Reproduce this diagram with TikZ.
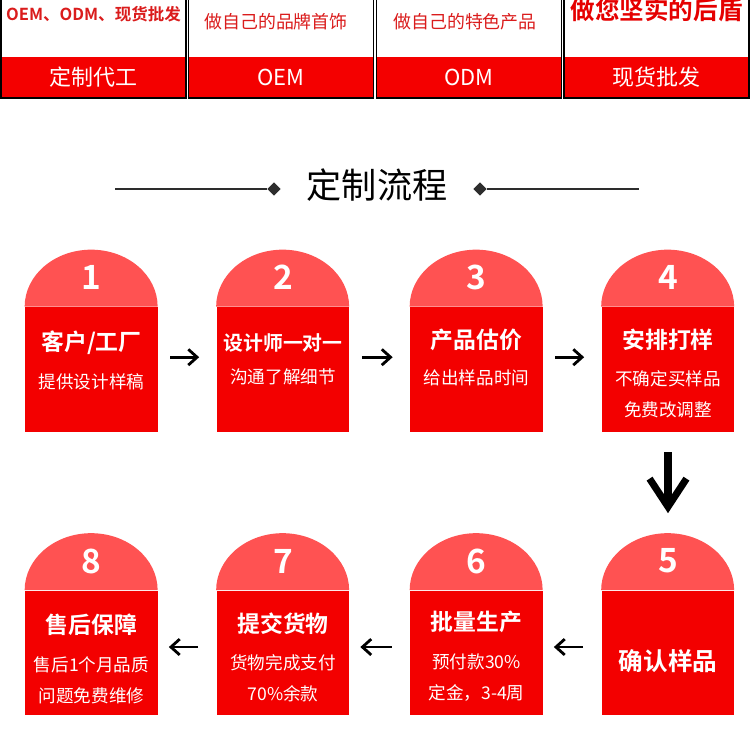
\documentclass[tikz,border=0pt]{standalone}
\usepackage{fontspec}
\setmainfont{Noto Sans CJK SC}[BoldFont={Noto Sans CJK SC Bold}]
\usetikzlibrary{arrows.meta,positioning,calc,shapes.geometric}
\definecolor{bandred}{RGB}{244,0,0}
\definecolor{cardred}{RGB}{243,0,0}
\definecolor{archred}{RGB}{255,82,82}
\definecolor{tagred}{RGB}{218,28,28}
\definecolor{linegray}{RGB}{45,45,45}

\begin{document}
\begin{tikzpicture}[x=0.02cm,y=-0.02cm,>=Stealth]
\tikzstyle{tab}=[draw=black,line width=1.1pt,minimum width=3.7cm,minimum height=2.2cm]
\tikzstyle{band}=[fill=bandred,text=white,minimum width=3.7cm,minimum height=0.82cm,font=\fontsize{12.5}{14}\selectfont]
\tikzstyle{tag}=[text=tagred,font=\fontsize{10.2}{12}\selectfont]
\tikzstyle{dot}=[diamond,fill=linegray,inner sep=0pt,minimum size=0.27cm]
\tikzstyle{rule}=[draw=linegray,line width=0.9pt]
\tikzstyle{body}=[fill=cardred,minimum width=2.66cm,minimum height=2.5cm]
\tikzstyle{num}=[text=white,font=\fontsize{19}{22}\selectfont\bfseries]
\tikzstyle{head}=[text=white,font=\fontsize{13}{15}\selectfont\bfseries]
\tikzstyle{sub}=[text=white,align=center,font=\fontsize{10}{17.6}\selectfont]
\tikzstyle{flow}=[-{Straight Barb[length=5pt,width=9pt]},line width=1.6pt]
\tikzstyle{drop}=[-{Straight Barb[length=16pt,width=21pt]},line width=4pt,shorten <=0.4cm,shorten >=0.4cm]

\useasboundingbox (0,0) rectangle (750,750);

% tabs along the top
\foreach \i/\x/\t in {1/93.5/定制代工,2/281/OEM,3/469/ODM,4/656.5/现货批发}{
  \node[band] (band\i) at (\x,77.5) {\t};
  \node[tab] (tab\i) at (\x,43) {};
}
\node[tag,font=\fontsize{9.4}{12}\selectfont\bfseries] (tag1) at (93.5,14) {OEM、ODM、现货批发};
\node[tag] (tag2) at (276,22) {做自己的品牌首饰};
\node[tag] (tag3) at (465,22) {做自己的特色产品};
\node[tag,text=red!90!black,font=\fontsize{14}{16}\selectfont\bfseries] (tag4) at (656.5,10) {做您坚实的后盾};

% heading
\node[font=\fontsize{20}{24}\selectfont] (title) at (377,185) {定制流程};
\node[dot] (dl) at (274,189) {};
\node[dot] (dr) at (480,189) {};
\coordinate (ll) at (115,189);
\coordinate (lr) at (639,189);
\draw[rule] (ll) -- (dl);
\draw[rule] (dr) -- (lr);

% cards
\foreach \i/\x/\y in {1/91.5/369.5,2/283/369.5,3/476.5/369.5,4/668/369.5,5/668/653,6/476.5/653,7/283/653,8/91.5/653}{
  \node[body] (b\i) at (\x,\y) {};
  \fill[archred] (b\i.north west) arc[start angle=180,end angle=0,x radius=1.33cm,y radius=1.14cm];
  \node[num] (n\i) at ($(b\i.north)+(0,-29)$) {\i};
}
\coordinate (t5) at ($(b5.north)+(0,-57)$);

\node[head] (h1) at (91.5,343) {客户/工厂};
\node[sub] (s1) at (91.5,382) {提供设计样稿};
\node[head,font=\fontsize{11.3}{14}\selectfont\bfseries] (h2) at (283,343) {设计师一对一};
\node[sub] (s2) at (283,377) {沟通了解细节};
\node[head] (h3) at (476.5,340) {产品估价};
\node[sub] (s3) at (476.5,378) {给出样品时间};
\node[head] (h4) at (668,340) {安排打样};
\node[sub] (s4) at (668,394) {不确定买样品\\免费改调整};
\node[head,font=\fontsize{14}{16}\selectfont\bfseries] (h5) at (668,661) {确认样品};
\node[head] (h6) at (476.5,622) {批量生产};
\node[sub] (s6) at (476.5,677.5) {预付款30\%\\定金，3-4周};
\node[head] (h7) at (283,624) {提交货物};
\node[sub] (s7) at (283,678.5) {货物完成支付\\70\%余款};
\node[head] (h8) at (91.5,625) {售后保障};
\node[sub] (s8) at (91.5,680) {售后1个月品质\\问题免费维修};

% arrows
\foreach \a/\b in {1/2,2/3,3/4}
  \draw[flow,shorten <=0.24cm,shorten >=0.34cm] ([yshift=7pt]b\a.east) -- ([yshift=7pt]b\b.west);
\foreach \a/\b in {5/6,6/7,7/8}
  \draw[flow,shorten <=0.36cm,shorten >=0.21cm] ([yshift=3.4pt]b\a.west) -- ([yshift=3.4pt]b\b.east);
\draw[drop] (b4.south) -- (t5);
\end{tikzpicture}
\end{document}
